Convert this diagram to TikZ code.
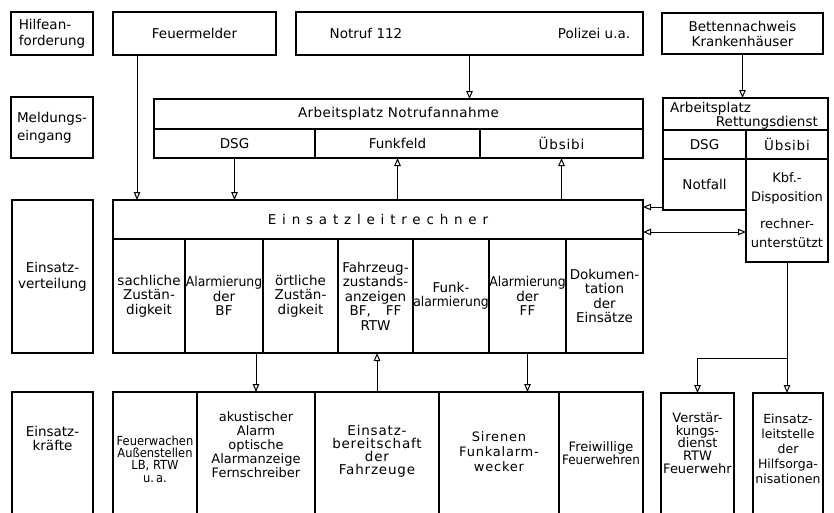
\documentclass[tikz,border=0pt]{standalone}
\usepackage{fontspec}
\setmainfont{DejaVu Sans}
\newfontfamily\condf[FakeStretch=0.92]{DejaVu Sans}
\usetikzlibrary{arrows.meta}
\tikzset{
 cellbox/.style={draw, line width=2.3pt, rectangle, inner sep=0pt, outer sep=0pt, align=center, font={\fontsize{13.5}{16}\selectfont}},
 txt/.style={inner sep=0pt, align=center, font={\fontsize{13.5}{16}\selectfont}},
 midtxt/.style={font={\fontsize{13.5}{14.5}\selectfont}},
 bottxt/.style={align=center, inner sep=0pt, font={\fontsize{13}{13.5}\selectfont}},
 conn/.style={line width=1pt},
 arr/.style={conn, -{Triangle[open,length=8pt,width=6.5pt,line width=1pt]}},
 darr/.style={conn, {Triangle[open,length=8pt,width=6.5pt,line width=1pt]}-{Triangle[open,length=8pt,width=6.5pt,line width=1pt]}},
}
\newcommand\mkcell[7][]{\node[cellbox,anchor=north west,minimum width={(#5-#3)*1pt},minimum height={(#6-#4)*1pt},#1] (#2) at (#3,#4) {#7};}
\begin{document}
\begin{tikzpicture}[x=1pt,y=-1pt]
\useasboundingbox (0,0) rectangle (834,512);
\clip (0,0) rectangle (834,512);
% row labels
\mkcell[align=left]{hilfe}{11}{12}{93}{55}{Hilfean-\\forderung}
\mkcell[align=left,font={\fontsize{13.5}{18}\selectfont}]{meld}{11}{97}{93}{158}{Meldungs-\\eingang}
\mkcell{verteil}{12}{200}{93}{353}{Einsatz-\\verteilung}
\mkcell{kraefte}{12}{392}{93}{530}{}
\node[bottxt,font={\fontsize{13.5}{14}\selectfont}] (kraeftet) at ([yshift=-46pt]kraefte.north) {Einsatz-\\kräfte};
% Hilfeanforderung
\mkcell{feuer}{113}{12}{276}{55}{Feuermelder}
\mkcell{notruf}{296}{12}{643}{55}{}
\node[txt] (notruf112) at ([xshift=70pt]notruf.west) {Notruf 112};
\node[txt] (polizei) at ([xshift=-49pt]notruf.east) {Polizei u.a.};
\mkcell[font={\fontsize{13.5}{15}\selectfont}]{betten}{662}{13}{823}{54}{Bettennachweis\\Krankenhäuser}
% Meldungseingang
\mkcell[font={\fontsize{13.5}{16}\selectfont\addfontfeature{LetterSpace=3}}]{apn}{154}{99}{643}{129}{Arbeitsplatz Notrufannahme}
\mkcell{dsg}{154}{129}{315}{158}{DSG}
\mkcell{funkfeld}{315}{129}{480}{158}{Funkfeld}
\mkcell[font={\fontsize{13.5}{16}\selectfont\addfontfeature{LetterSpace=6}}]{uebsibi}{480}{129}{643}{158}{Übsibi}
\mkcell{apr}{663}{98}{828}{130}{}
\node[txt,anchor=west] (aprt1) at ([xshift=7pt,yshift=5pt]apr.west) {Arbeitsplatz};
\node[txt,anchor=east] (aprt2) at ([xshift=-10pt,yshift=-9pt]apr.east) {Rettungsdienst};
\mkcell{rdsg}{663}{130}{746}{159}{DSG}
\mkcell[font={\fontsize{13.5}{16}\selectfont\addfontfeature{LetterSpace=6}}]{rueb}{746}{130}{828}{159}{Übsibi}
\mkcell{notfall}{663}{159}{746}{210}{Notfall}
\mkcell[font={\fontsize{13}{19}\selectfont}]{kbf}{746}{159}{828}{262}{Kbf.-\\Disposition\\[8pt]rechner-\\unterstützt}
% Einsatzleitrechner
\mkcell[font={\fontsize{13.5}{16}\selectfont\addfontfeature{LetterSpace=43}}]{elr}{113}{200}{643}{239}{Einsatzleitrechner}
\mkcell[midtxt]{c1}{113}{239}{185}{353}{sachliche\\Zustän-\\digkeit}
\mkcell[midtxt]{c2}{185}{239}{263}{353}{{\condf Alarmierung}\\der\\BF}
\mkcell[midtxt]{c3}{263}{239}{338}{353}{örtliche\\Zustän-\\digkeit}
\mkcell[midtxt]{c4}{338}{239}{413}{353}{Fahrzeug-\\zustands-\\anzeigen\\BF,\hspace{1.1em}FF\\RTW}
\mkcell[midtxt]{c5}{413}{239}{489}{353}{Funk-\\{\condf alarmierung}}
\mkcell[midtxt]{c6}{489}{239}{566}{353}{{\condf Alarmierung}\\der\\FF}
\mkcell[midtxt]{c7}{566}{239}{643}{353}{Dokumen-\\tation\\der\\Einsätze}
% Einsatzkraefte
\mkcell{b1}{113}{392}{197}{530}{}
\mkcell{b2}{197}{392}{315}{530}{}
\mkcell{b3}{315}{392}{439}{530}{}
\mkcell{b4}{439}{392}{559}{530}{}
\mkcell{b5}{559}{392}{643}{530}{}
\mkcell{vd}{661}{393}{734}{530}{}
\mkcell{hil}{753}{393}{823}{530}{}
\node[bottxt,font={\fontsize{12.5}{12.3}\selectfont\condf}] (b1t) at ([yshift=-67pt]b1.north) {Feuerwachen\\Außenstellen\\LB, RTW\\u.\,a.};
\node[bottxt,font={\fontsize{13}{14}\selectfont}] (b2t) at ([yshift=-53pt]b2.north) {akustischer\\Alarm\\optische\\Alarmanzeige\\Fernschreiber};
\node[bottxt,font={\fontsize{13.5}{13}\selectfont\addfontfeature{LetterSpace=6}}] (b3t) at ([yshift=-59pt]b3.north) {Einsatz-\\bereitschaft\\der\\Fahrzeuge};
\node[bottxt,font={\fontsize{13}{15}\selectfont\addfontfeature{LetterSpace=6}}] (b4t) at ([yshift=-60pt]b4.north) {Sirenen\\Funkalarm-\\wecker};
\node[bottxt,font={\fontsize{13}{13}\selectfont}] (b5t) at ([yshift=-61pt]b5.north) {Freiwillige\\{\condf Feuerwehren}};
\node[bottxt,font={\fontsize{13}{12.6}\selectfont}] (vdt) at ([yshift=-50pt]vd.north) {Verstär-\\kungs-\\dienst\\RTW\\Feuerwehr};
\node[bottxt,font={\fontsize{12.5}{15}\selectfont}] (hilt) at ([yshift=-56pt]hil.north) {Einsatz-\\leitstelle\\der\\Hilfsorga-\\nisationen};
% connectors
\coordinate (fm) at ([xshift=24pt]feuer.south west);
\draw[arr] (fm) -- (fm |- elr.north);
\draw[arr] (dsg.south) -- (dsg.south |- elr.north);
\draw[arr] (funkfeld.south |- elr.north) -- (funkfeld.south);
\draw[arr] (uebsibi.south |- elr.north) -- (uebsibi.south);
\draw[arr] (notruf.south) -- (notruf.south |- apn.north);
\draw[arr] (betten.south) -- (betten.south |- apr.north);
\coordinate (nf) at ([yshift=3pt]notfall.south west);
\draw[arr] (nf) -- (nf -| elr.east);
\coordinate (kw) at ([yshift=-21.5pt]kbf.west);
\draw[darr] (kw -| elr.east) -- (kw);
\draw[arr] (b2.north |- c2.south) -- (b2.north);
\draw[arr] (b3.north) -- (b3.north |- c4.south);
\draw[arr] (c6.south) -- (c6.south |- b4.north);
\coordinate (split) at ([yshift=-96pt]kbf.south);
\draw[arr] (kbf.south) -- (split |- hil.north);
\draw[arr] (split) -- (split -| vd.north) -- (vd.north);
\end{tikzpicture}
\end{document}
